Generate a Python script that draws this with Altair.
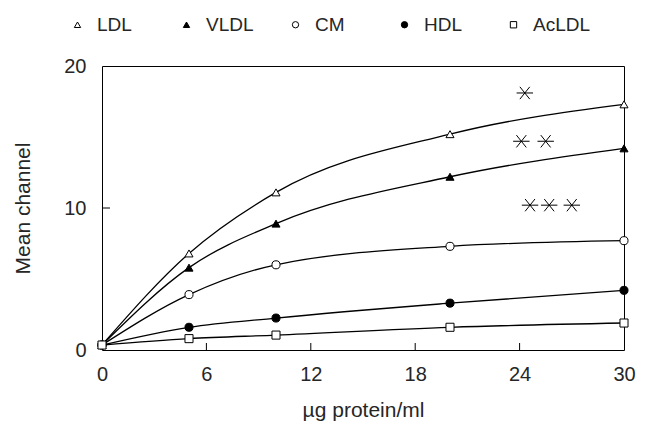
import altair as alt
import pandas as pd

# ---- data ----
x_values = [0, 5, 10, 20, 30]
series = ["LDL", "VLDL", "CM", "HDL", "AcLDL"]
ldl = [0.35, 6.8, 11.1, 15.2, 17.3]
vldl = [0.35, 5.8, 8.9, 12.2, 14.2]
cm = [0.35, 3.9, 6.0, 7.3, 7.7]
hdl = [0.35, 1.6, 2.25, 3.3, 4.2]
acldl = [0.35, 0.8, 1.05, 1.6, 1.9]

x_ticks = [0, 6, 12, 18, 24, 30]
y_ticks = [0, 10, 20]

# significance asterisks (annotation positions in data units)
star_x = [24.3, 24.1, 25.5, 24.6, 25.7, 27.0]
star_y = [18.1, 14.7, 14.7, 10.2, 10.2, 10.2]

shapes = ["triangle-up", "triangle-up", "circle", "circle", "square"]
fills = ["white", "black", "white", "black", "white"]
strokes = ["black"] * 5

rows = []
for name, vals in zip(series, [ldl, vldl, cm, hdl, acldl]):
    for xv, yv in zip(x_values, vals):
        rows.append({"series": name, "x": xv, "y": yv})
df = pd.DataFrame(rows)
stars = pd.DataFrame({"x": star_x, "y": star_y})

W, H = 522, 284
FONT = "Liberation Sans"
TXT = "#262626"

xscale = alt.Scale(domain=[0, 30], nice=False, zero=False)
yscale = alt.Scale(domain=[0, 20], nice=False, zero=False)

xaxis = alt.Axis(values=x_ticks, ticks=False, domain=False, grid=False,
                 labelFontSize=20, labelFont=FONT, labelColor=TXT, labelPadding=14,
                 title="µg protein/ml", titleFontSize=21, titleFont=FONT,
                 titleFontWeight="normal", titleColor=TXT, titlePadding=15,
                 labelFlush=False)
yaxis = alt.Axis(values=y_ticks, ticks=False, domain=False, grid=False,
                 labelFontSize=20, labelFont=FONT, labelColor=TXT, labelPadding=16,
                 title="Mean channel", titleFontSize=21, titleFont=FONT,
                 titleFontWeight="normal", titleColor=TXT, titlePadding=30)

legend = alt.Legend(orient="none", legendX=-34, legendY=-51, direction="horizontal",
                    columns=5, gridAlign="all", columnPadding=22,
                    title=None, labelFontSize=19, labelFont=FONT, labelColor=TXT,
                    symbolStrokeWidth=1, symbolSize=40, labelOffset=10)

base = alt.Chart(df)

lines = base.mark_line(interpolate="monotone", color="black", strokeWidth=1.3).encode(
    x=alt.X("x:Q", scale=xscale, axis=xaxis),
    y=alt.Y("y:Q", scale=yscale, axis=yaxis),
    detail="series:N",
)

points = base.mark_point(filled=True, strokeWidth=1, opacity=1, size=65).encode(
    x=alt.X("x:Q", scale=xscale),
    y=alt.Y("y:Q", scale=yscale),
    fill=alt.Fill("series:N", scale=alt.Scale(domain=series, range=fills), legend=legend),
    shape=alt.Shape("series:N", scale=alt.Scale(domain=series, range=shapes), legend=legend),
    stroke=alt.Stroke("series:N", scale=alt.Scale(domain=series, range=strokes), legend=legend),
)

star_path = "M-1,0L1,0M-0.6,-0.75L0.6,0.75M-0.6,0.75L0.6,-0.75"
asterisks = alt.Chart(stars).mark_point(shape=star_path, size=270, filled=False,
                                        stroke="black", strokeWidth=1, opacity=1).encode(
    x=alt.X("x:Q", scale=xscale),
    y=alt.Y("y:Q", scale=yscale),
)

tick_df = pd.DataFrame({"t": x_ticks[1:-1]})
xticks = alt.Chart(tick_df).mark_rule(color="black", strokeWidth=1).encode(
    x=alt.X("t:Q", scale=xscale),
    y=alt.value(H - 7),
    y2=alt.value(H),
)
ytick_df = pd.DataFrame({"t": y_ticks[1:-1]})
yticks = alt.Chart(ytick_df).mark_rule(color="black", strokeWidth=1).encode(
    y=alt.Y("t:Q", scale=yscale),
    x=alt.value(0),
    x2=alt.value(8),
)

chart = alt.layer(xticks, yticks, lines, points, asterisks).properties(
    width=W, height=H,
    autosize=alt.AutoSizeParams(type="none"),
    padding={"left": 94, "top": 58, "right": 20, "bottom": 76},
    background="white",
).configure_view(stroke="black", strokeWidth=1)

chart.save("out.html", embed_options={"renderer": "svg", "actions": False})
